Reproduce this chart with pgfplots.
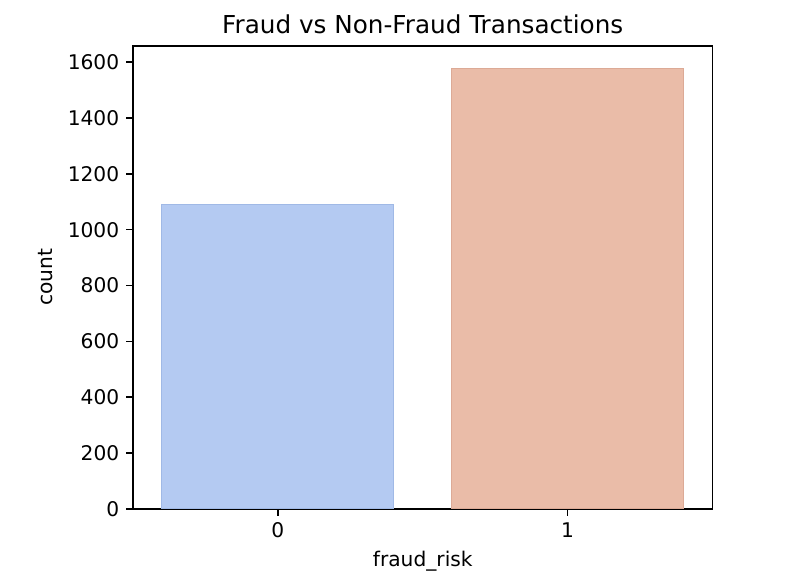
\documentclass[border=0pt]{standalone}
\usepackage{fontspec}
\setmainfont{DejaVu Sans}
\usepackage{pgfplots}
\pgfplotsset{compat=1.18}
\definecolor{barblue}{RGB}{180,202,242}
\definecolor{barred}{RGB}{234,188,168}
\definecolor{edgeblue}{RGB}{160,185,230}
\definecolor{edgered}{RGB}{220,170,150}
\begin{document}
\begin{tikzpicture}[x=1pt,y=1pt]
\begin{axis}[
    scale only axis,
    width=298.4pt, height=238.2pt,
    xmin=-0.5, xmax=1.5,
    ymin=0, ymax=1658,
    xtick={0,1}, xticklabels={0,1},
    ytick={0,200,400,600,800,1000,1200,1400,1600},
    scaled ticks=false,
    /pgf/number format/assume math mode=true,
    /pgf/number format/1000 sep={},
    tick align=outside,
    major tick length=3.5pt,
    xtick pos=bottom, ytick pos=left,
    axis line style={line width=0.8pt},
    every tick/.style={black, line width=0.8pt},
    tick label style={font=\fontsize{10.4}{12}\selectfont},
    xlabel={fraud\_risk}, ylabel={count},
    label style={font=\fontsize{10.4}{12}\selectfont},
    ylabel style={xshift=0pt, yshift=1pt},
    title={Fraud vs Non-Fraud Transactions},
    title style={font=\fontsize{12.7}{14}\selectfont, yshift=-3pt},
    ybar, bar width=0.8, bar shift=0pt,
]
\addplot[fill=barblue, draw=edgeblue, line width=0.6pt] coordinates {(0,1089)};
\addplot[fill=barred, draw=edgered, line width=0.6pt] coordinates {(1,1579)};
\end{axis}
\path (current axis.south west) ++(-68.4pt,-40.6pt) coordinate (bl);
\path (current axis.north east) ++(38.3pt,23.7pt) coordinate (tr);
\path (bl) rectangle (tr);
\end{tikzpicture}
\end{document}
